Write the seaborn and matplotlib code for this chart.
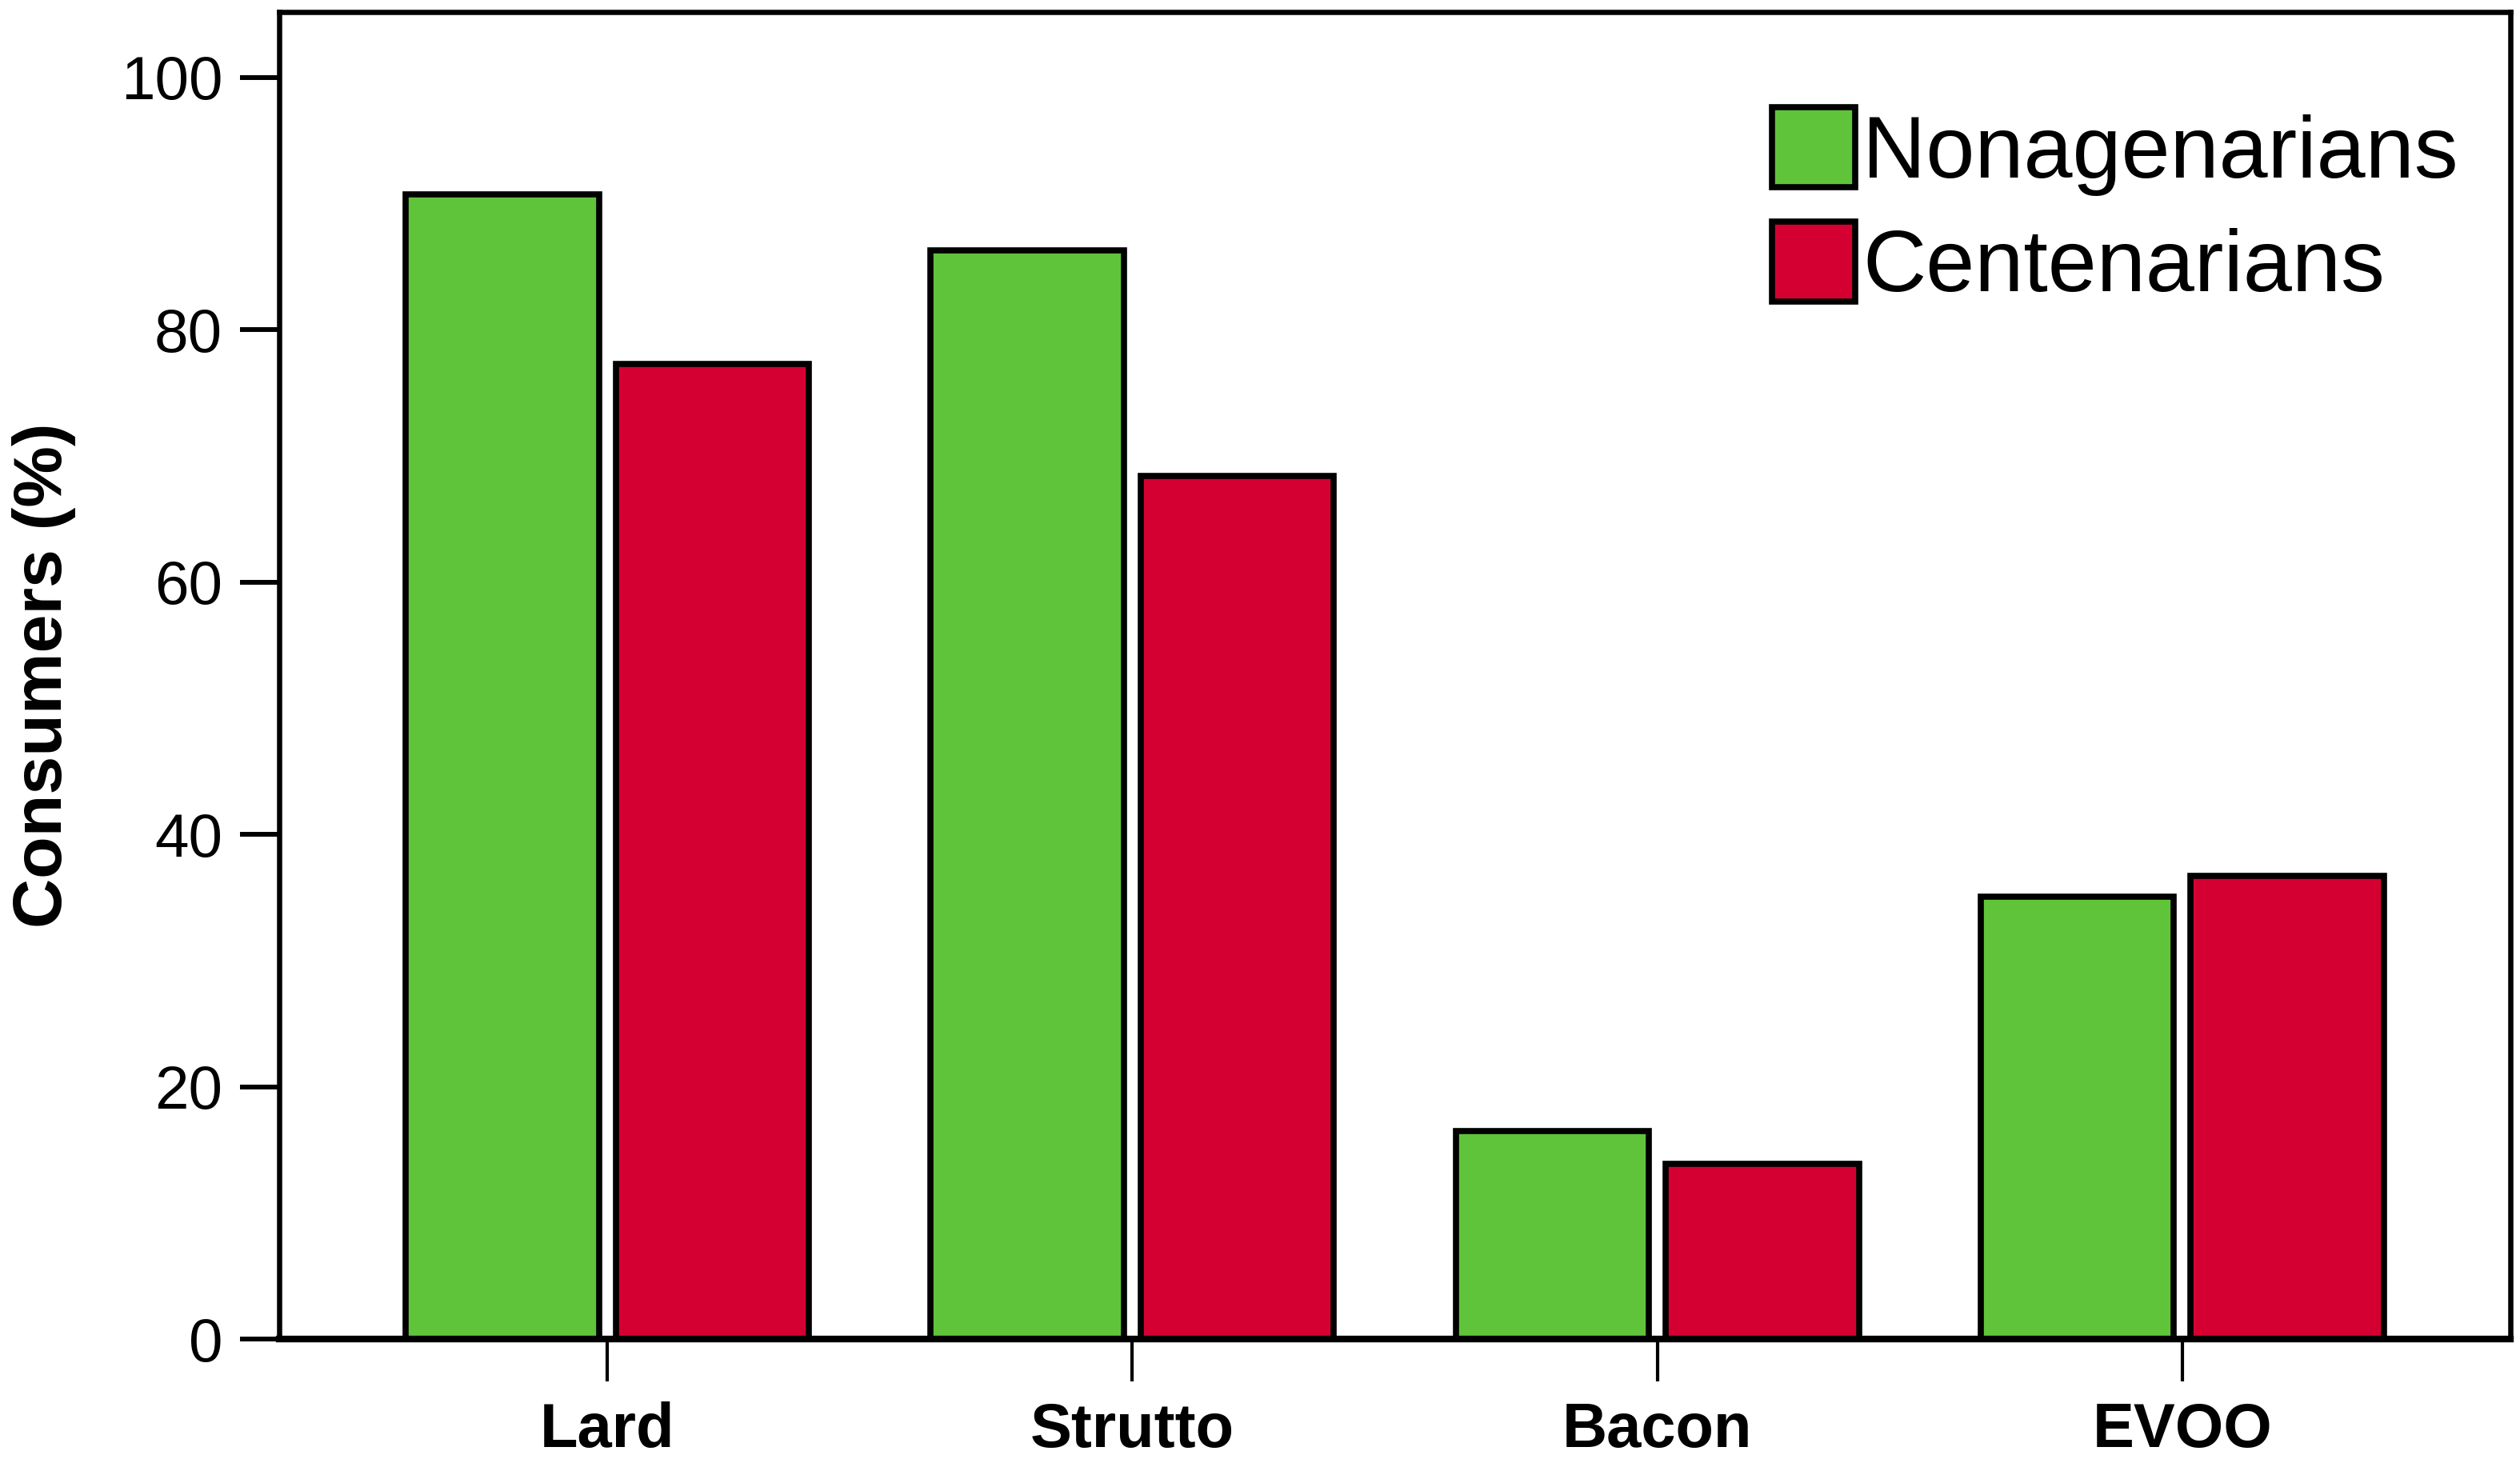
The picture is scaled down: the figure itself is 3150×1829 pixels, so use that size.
import matplotlib
matplotlib.use("Agg")
import matplotlib.pyplot as plt
from matplotlib.patches import Patch
import seaborn as sns
import pandas as pd

# ---- data ----
foods = ["Lard", "Strutto", "Bacon", "EVOO"]
groups = ["Nonagenarians", "Centenarians"]
nonagenarians = [90.7, 86.3, 16.5, 35.1]
centenarians = [77.3, 68.4, 13.9, 36.7]
yticks = [0, 20, 40, 60, 80, 100]
colors = ["#60C43A", "#D50032"]

df = pd.DataFrame({
    "food": foods * 2,
    "group": [groups[0]] * len(foods) + [groups[1]] * len(foods),
    "value": nonagenarians + centenarians,
})

sns.set_theme(style="white")
plt.rcParams["font.family"] = ["Liberation Sans", "DejaVu Sans"]

fig = plt.figure(figsize=(31.5, 18.29), dpi=100)
ax = fig.add_axes([0.1108, 0.0845, 0.8854, 0.9075])

sns.barplot(data=df, x="food", y="value", hue="group", order=foods,
            hue_order=groups, palette=colors, width=0.8, gap=0.08,
            edgecolor="black", linewidth=5.5, saturation=1, legend=False,
            errorbar=None, ax=ax)

ax.set_xlim(-0.625, 3.625)
ax.set_ylim(0, 105.2)
ax.set_yticks(yticks)
ax.set_yticklabels([str(v) for v in yticks])

for s in ["left", "top", "right"]:
    ax.spines[s].set_visible(True)
    ax.spines[s].set_color("black")
    ax.spines[s].set_linewidth(4.7)
ax.spines["bottom"].set_color("black")
ax.spines["bottom"].set_linewidth(6)

ax.tick_params(axis="y", direction="out", length=35, width=4.3, pad=16,
               labelsize=55, colors="black", left=True)
ax.tick_params(axis="x", direction="out", length=38, width=3, pad=18,
               labelsize=56, colors="black", bottom=True)
for lab in ax.get_xticklabels():
    lab.set_fontweight("bold")

ax.set_xlabel("")
ax.set_ylabel("Consumers (%)", fontsize=62, fontweight="bold", labelpad=40,
              color="black")

handles = [Patch(facecolor=c, edgecolor="black", linewidth=5.5) for c in colors]
ax.legend(handles, groups, loc="upper left", bbox_to_anchor=(0.669, 0.928),
          frameon=False, fontsize=79, handlelength=0.95, handleheight=1.03,
          handletextpad=0.08, labelspacing=0.29, borderpad=0, borderaxespad=0,
          labelcolor="black")

fig.savefig("out.png", dpi=100, facecolor="white")
